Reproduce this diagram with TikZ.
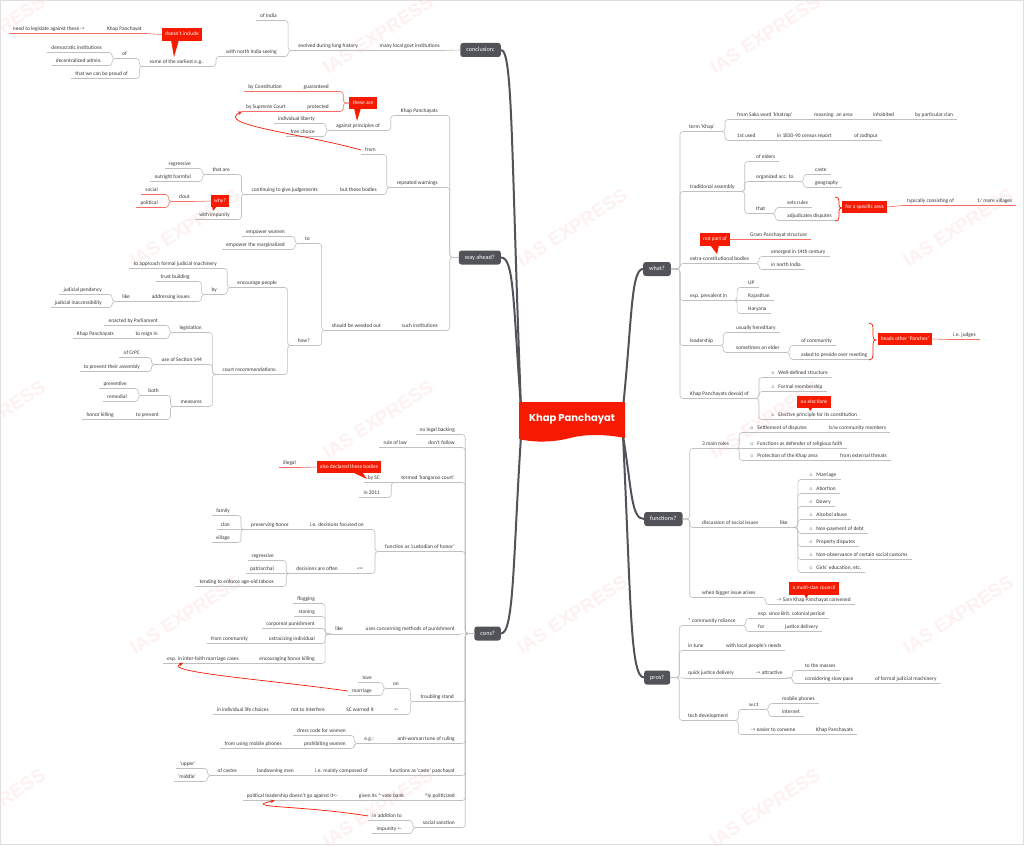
\documentclass[tikz,border=0pt]{standalone}
\usepackage{fontspec}
\setmainfont{Carlito}
\newfontfamily\popp{Poppins}
\newfontfamily\wmfont{Liberation Sans}
\usetikzlibrary{calc,arrows.meta}
\definecolor{cred}{RGB}{245,26,0}
\definecolor{boxg}{RGB}{82,83,89}
\definecolor{txt}{RGB}{55,55,55}
\definecolor{lin}{RGB}{192,192,192}
\definecolor{rlin}{RGB}{246,110,100}
\definecolor{wmc}{RGB}{254,241,241}
\tikzset{
 tpb/.style={font=\fontsize{5.4}{6}\selectfont, text=txt, inner xsep=4pt, inner ysep=1.8pt, text height=3.8pt, text depth=1.2pt},
 ul/.style={draw=lin, line width=0.6pt},
 rul/.style={draw=rlin, line width=0.6pt},
 tp/.style={tpb, append after command={(\tikzlastnode.south west) edge[ul] (\tikzlastnode.south east)}},
 rtp/.style={tpb, append after command={(\tikzlastnode.south west) edge[rul] (\tikzlastnode.south east)}},
 L/.style={tp, anchor=east}, R/.style={tp, anchor=west},
 rL/.style={rtp, anchor=east}, rR/.style={rtp, anchor=west},
 cn/.style={draw=lin, line width=0.6pt, rounded corners=3pt},
 rcn/.style={draw=rlin, line width=0.6pt, rounded corners=3pt},
 mbox/.style={fill=boxg, text=white, rounded corners=2.5pt, font=\fontsize{6.2}{7}\selectfont, inner xsep=6pt, inner ysep=0pt, minimum height=14pt, text height=4.3pt, text depth=1.3pt},
 co/.style={fill=cred, text=white, font=\fontsize{5.4}{6}\selectfont, inner xsep=3.3pt, inner ysep=0pt, minimum height=12.5pt, text height=3.8pt, text depth=1.2pt},
 trunk/.style={draw=boxg, line width=2pt},
 rarr/.style={draw=cred, line width=0.7pt, -{Stealth[length=4pt,width=3.5pt]}},
 brc/.style={draw=cred, line width=0.7pt},
 wm/.style={text=wmc, font=\wmfont\bfseries\fontsize{19}{20}\selectfont, rotate=33, inner sep=0pt},
 frm/.style={draw=gray!25, line width=0.8pt},
}
\newcommand\cnL[2]{\draw[cn] (#1.south west) -- ++(-6,0) |- (#2.south east);}
\newcommand\cnR[2]{\draw[cn] (#1.south east) -- ++(6,0) |- (#2.south west);}
\newcommand\stL[2]{\draw[cn] (#1.south west) -- (#2.south east);}
\newcommand\stR[2]{\draw[cn] (#1.south east) -- (#2.south west);}
\newcommand\bxL[2]{\draw[cn] (#1.west) -- ++(-9,0) |- (#2.south east);}
\newcommand\bxR[2]{\draw[cn] (#1.east) -- ++(9,0) |- (#2.south west);}
\newcommand\bu{{\fontsize{5}{5}\selectfont$\circ$}\hspace{3.5pt}}
\begin{document}
\begin{tikzpicture}[x=1pt,y=-1pt]
\useasboundingbox (0,0) rectangle (1024,845);
\clip (0,0) rectangle (1024,845);
\fill[white] (0,0) rectangle (1024,845);
% watermarks
\foreach \x/\y [count=\i] in {-10/35,378/35,765/35,-10/420,378/420,765/420,-10/808,378/808,765/808,185/228,572/228,958/228,185/615,572/615,958/615}
  \node[wm] (wm\i) at (\x,\y) {IAS EXPRESS};
\draw[frm] (0.5,0.5) rectangle (1023.5,844.5);

% main topic boxes
\node[mbox, anchor=east] (conc) at (501,50) {conclusion:};
\node[mbox, anchor=east] (way) at (501,257.5) {way ahead?};
\node[mbox, anchor=east] (cons) at (501,633.5) {cons?};
\node[mbox, anchor=west] (what) at (643,269) {what?};
\node[mbox, anchor=west] (funcs) at (644,519) {functions?};
\node[mbox, anchor=west] (pros) at (644,677.5) {pros?};

% trunks
\coordinate (tl) at (521,408);
\coordinate (bl) at (521,436);
\coordinate (tr) at (623,408);
\coordinate (br) at (623,436);
\draw[trunk] (tl) .. controls (511,150) and (513,50) .. (conc.east);
\draw[trunk] (tl) .. controls (513,300) and (514,257.5) .. (way.east);
\draw[trunk] (bl) .. controls (513,560) and (514,633.5) .. (cons.east);
\draw[trunk] (tr) .. controls (632,320) and (631,269) .. (what.west);
\draw[trunk] (br) .. controls (632,490) and (631,519) .. (funcs.west);
\draw[trunk] (br) .. controls (631,600) and (630,677.5) .. (pros.west);

% central topic
\fill[cred] (519,402) -- (625,402) -- (625,438) .. controls (605,434) and (585,434) .. (570,438) .. controls (555,442) and (535,443) .. (519,439) -- cycle;
\node[font=\popp\bfseries\fontsize{10}{12}\selectfont, text=white] (ctr) at (572,419) {Khap Panchayat};

% ---------------- conclusion
\node[L] (c1) at (444,46) {many local govt institutions};
\node[L] (c2) at (362,46) {evolved during long history};
\node[L] (c3) at (281,16) {of India};
\node[L] (c4) at (281,52) {with north India seeing};
\node[L] (c5) at (208,62) {some of the earliest e.g..};
\node[L] (c6) at (131,54) {of};
\node[L] (c7) at (106,48) {democratic institutions};
\node[L] (c8) at (106,61) {decentralized admin.};
\node[L] (c9) at (132,74) {that we can be proud of};
\node[co] (co1) at (182,34.5) {doesn't include};
\fill[cred] (171,40) -- (179,40) -- (174,57) -- cycle;
\node[rL] (c10) at (146,29) {Khap Panchayat};
\node[rL] (c11) at (89,29) {need to legislate against these ->};
\draw[cn] (conc.west) -- (c1.south east);
\stL{c1}{c2}
\cnL{c2}{c3} \cnL{c2}{c4}
\cnL{c4}{c5}
\cnL{c5}{c6} \cnL{c5}{c9}
\cnL{c6}{c7} \cnL{c6}{c8}
\draw[rcn] (co1.west) -- (c10.south east);
\draw[rcn] (c10.south west) -- (c11.south east);

% ---------------- way ahead
\node[L] (w1) at (442,111) {Khap Panchayats};
\node[L] (w2) at (384,126) {against principles of};
\node[L] (w3) at (319,119) {individual liberty};
\node[L] (w4) at (319,132) {free choice};
\node[co] (co2) at (363,103) {these are};
\fill[cred] (354,108) -- (361,108) -- (357,121) -- cycle;
\node[rL] (w5) at (333,87) {guaranteed};
\node[rL] (w6) at (333,107) {protected};
\node[rL] (w7) at (286,87) {by Constitution};
\node[rL] (w8) at (290,107) {by Supreme Court};
\node[L] (w9) at (380,150) {from};
\node[L] (w10) at (442,183) {repeated warnings};
\node[L] (w11) at (381,190) {but these bodies};
\node[L] (w12) at (322,190) {continuing to give judgements};
\node[L] (w13) at (234,170) {that are};
\node[L] (w14) at (195,164) {regressive};
\node[L] (w15) at (195,177) {outright harmful};
\node[L] (w16) at (234,215) {with impunity};
\node[co] (co3) at (220,201) {why?};
\fill[cred] (212,206) -- (217,206) -- (213,211) -- cycle;
\node[rL] (w17) at (194,197) {clout};
\node[rL] (w18) at (162,190) {social};
\node[rL] (w19) at (162,203) {political};
\node[L] (w20) at (442,326) {such institutions};
\node[L] (w21) at (385,326) {should be weeded out};
\node[L] (w22) at (314,239) {to};
\node[L] (w23) at (289,232) {empower women};
\node[L] (w24) at (289,245) {empower the marginalized};
\node[L] (w25) at (314,341) {how?};
\node[L] (w26) at (281,283) {encourage people};
\node[L] (w27) at (221,264) {to approach formal judicial machinery};
\node[L] (w28) at (221,290) {by};
\node[L] (w29) at (194,277) {trust building};
\node[L] (w30) at (194,297) {addressing issues};
\node[L] (w31) at (134,297) {like};
\node[L] (w32) at (106,290) {judicial pendency};
\node[L] (w33) at (106,303) {judicial inaccessibility};
\node[L] (w34) at (281,370) {court recommendations:};
\node[L] (w35) at (206,328) {legislation};
\node[L] (w36) at (162,321) {enacted by Parliament};
\node[L] (w37) at (162,334) {to reign in};
\node[L] (w38) at (118,334) {Khap Panchayats};
\node[L] (w39) at (206,360) {use of Section 144};
\node[L] (w40) at (144,353) {of CrPC};
\node[L] (w41) at (144,367) {to prevent their assembly};
\node[L] (w42) at (206,402) {measures};
\node[L] (w43) at (163,391) {both};
\node[L] (w44) at (131,384) {preventive};
\node[L] (w45) at (131,397) {remedial};
\node[L] (w46) at (163,415) {to prevent};
\node[L] (w47) at (118,415) {honor killing};
\bxL{way}{w1} \bxL{way}{w10} \bxL{way}{w20}
\cnL{w1}{w2} \cnL{w2}{w3} \cnL{w2}{w4}
\draw[rcn] (co2.west) -- ++(-6,0) |- (w5.south east);
\draw[rcn] (co2.west) -- ++(-6,0) |- (w6.south east);
\draw[rcn] (w5.south west) -- (w7.south east);
\draw[rcn] (w6.south west) -- (w8.south east);
\cnL{w10}{w9} \cnL{w10}{w11}
\stL{w11}{w12}
\cnL{w12}{w13} \cnL{w12}{w16}
\cnL{w13}{w14} \cnL{w13}{w15}
\draw[rcn] (co3.west) -- (w17.south east);
\draw[rcn] (w17.south west) -- ++(-6,0) |- (w18.south east);
\draw[rcn] (w17.south west) -- ++(-6,0) |- (w19.south east);
\stL{w20}{w21}
\cnL{w21}{w22} \cnL{w21}{w25}
\cnL{w22}{w23} \cnL{w22}{w24}
\cnL{w25}{w26} \cnL{w25}{w34}
\cnL{w26}{w27} \cnL{w26}{w28}
\cnL{w28}{w29} \cnL{w28}{w30}
\stL{w30}{w31}
\cnL{w31}{w32} \cnL{w31}{w33}
\cnL{w34}{w35} \cnL{w34}{w39} \cnL{w34}{w42}
\cnL{w35}{w36} \cnL{w35}{w37} \stL{w37}{w38}
\cnL{w39}{w40} \cnL{w39}{w41}
\cnL{w42}{w43} \cnL{w42}{w46}
\cnL{w43}{w44} \cnL{w43}{w45} \stL{w46}{w47}
\draw[rarr] (w9.west) .. controls (300,133) and (215,125) .. (w8.south west);

% ---------------- cons
\node[L] (k1) at (459,430) {no legal backing};
\node[L] (k2) at (459,443) {don't follow};
\node[L] (k3) at (411,443) {rule of law};
\node[L] (k4) at (459,478) {termed `kangaroo court'};
\node[L] (k5) at (384,478) {by SC};
\node[L] (k6) at (384,493) {in 2011};
\node[co] (co4) at (349,467) {also declared these bodies};
\fill[cred] (352,472) -- (362,472) -- (367,479) -- cycle;
\node[rL] (k7) at (300,463) {illegal};
\node[L] (k8) at (459,547) {function as `custodian of honor'};
\node[L] (k9) at (368,525) {i.e. decisions focused on};
\node[L] (k10) at (293,525) {preserving honor};
\node[L] (k11) at (234,511) {family};
\node[L] (k12) at (234,525) {clan};
\node[L] (k13) at (234,538) {village};
\node[L] (k14) at (367,569) {<=};
\node[L] (k15) at (342,569) {decisions are often};
\node[L] (k16) at (278,556) {regressive};
\node[L] (k17) at (278,569) {patriarchal};
\node[L] (k18) at (278,582) {tending to enforce age-old taboos};
\node[L] (k19) at (459,629.5) {uses concerning methods of punishment};
\node[L] (k20) at (347,629.5) {like};
\node[L] (k21) at (319,599) {flogging};
\node[L] (k22) at (319,612) {stoning};
\node[L] (k23) at (319,624) {corporeal punishment};
\node[L] (k24) at (319,639) {ostracizing individual};
\node[L] (k25) at (252,639) {from community};
\node[L] (k26) at (319,659) {encouraging honor killing};
\node[L] (k27) at (243,659) {esp. in inter-faith marriage cases};
\node[L] (k28) at (458,697) {troubling stand};
\node[L] (k29) at (403,684) {on};
\node[L] (k30) at (376,678) {love};
\node[L] (k31) at (376,691) {marriage};
\node[L] (k32) at (403,710) {<-};
\node[L] (k33) at (378,710) {SC warned it};
\node[L] (k34) at (329,710) {not to interfere};
\node[L] (k35) at (273,710) {in individual life choices};
\node[L] (k36) at (459,739) {anti-woman tone of ruling};
\node[L] (k37) at (378,739) {e.g.:};
\node[L] (k38) at (350,731) {dress code for women};
\node[L] (k39) at (350,744) {prohibiting women};
\node[L] (k40) at (286,744) {from using mobile phones};
\node[L] (k41) at (459,771) {functions as `caste' panchayat};
\node[L] (k42) at (372,771) {i.e. mainly composed of};
\node[L] (k43) at (298,771) {landowning men};
\node[L] (k44) at (241,771) {of castes};
\node[L] (k45) at (200,764) {`upper'};
\node[L] (k46) at (200,777) {`middle'};
\node[L] (k47) at (459,796) {\textasciicircum{}ly politicized};
\node[L] (k48) at (408,796) {given its \textasciicircum{} vote bank};
\node[L] (k49) at (342,796) {political leadership doesn't go against it<-};
\node[L] (k50) at (459,823) {social sanction};
\node[L] (k51) at (406,816) {in addition to};
\node[L] (k52) at (406,829) {impunity <-};
\bxL{cons}{k1} \bxL{cons}{k2} \bxL{cons}{k4} \bxL{cons}{k8}
\draw[cn] (cons.west) -- (k19.south east);
\bxL{cons}{k28} \bxL{cons}{k36} \bxL{cons}{k41} \bxL{cons}{k47} \bxL{cons}{k50}
\stL{k2}{k3}
\stL{k4}{k5} \cnL{k4}{k6}
\draw[rcn] (co4.west) -- (k7.south east);
\cnL{k8}{k9} \cnL{k8}{k14}
\stL{k9}{k10}
\cnL{k10}{k11} \stL{k10}{k12} \cnL{k10}{k13}
\stL{k14}{k15}
\cnL{k15}{k16} \stL{k15}{k17} \cnL{k15}{k18}
\stL{k19}{k20}
\cnL{k20}{k21} \cnL{k20}{k22} \cnL{k20}{k23} \cnL{k20}{k24} \cnL{k20}{k26}
\stL{k24}{k25} \stL{k26}{k27}
\cnL{k28}{k29} \cnL{k28}{k32}
\cnL{k29}{k30} \cnL{k29}{k31}
\stL{k32}{k33} \stL{k33}{k34} \stL{k34}{k35}
\stL{k36}{k37}
\cnL{k37}{k38} \cnL{k37}{k39} \stL{k39}{k40}
\stL{k41}{k42} \stL{k42}{k43} \stL{k43}{k44}
\cnL{k44}{k45} \cnL{k44}{k46}
\stL{k47}{k48} \stL{k48}{k49}
\cnL{k50}{k51} \cnL{k50}{k52}
\draw[rarr] (k31.west) .. controls (270,680) and (160,672) .. ($(k27.south west)+(20,-0.5)$);
\draw[rarr] (k51.west) .. controls (300,805) and (240,808) .. ($(k49.south west)+(32,0)$);

% ---------------- what?
\node[R] (r1) at (685,127) {term `Khap'};
\node[R] (r2) at (733,115) {from Saka word `khatrap'};
\node[R] (r3) at (810,115) {meaning: an area};
\node[R] (r4) at (869,115) {inhabited};
\node[R] (r5) at (911,115) {by particular clan};
\node[R] (r6) at (733,136) {1st used};
\node[R] (r7) at (773,136) {in 1830-90 census report};
\node[R] (r8) at (850,136) {of Jodhpur};
\node[R] (r9) at (686,187) {traditional assembly};
\node[R] (r10) at (752,157) {of elders};
\node[R] (r11) at (752,177) {organized acc. to};
\node[R] (r12) at (811,170) {caste};
\node[R] (r13) at (811,183) {geography};
\node[R] (r14) at (752,209) {that};
\node[R] (r15) at (783,203) {sets rules};
\node[R] (r16) at (783,216) {adjudicates disputes};
\draw[brc] (835,197) .. controls (838,197) and (839,198) .. (839,201) -- (839,205) .. controls (839,207) and (840,208) .. (842,208) .. controls (840,208) and (839,209) .. (839,211) -- (839,217) .. controls (839,220) and (838,221) .. (835,221);
\node[co] (r17) at (864.5,207) {for a specific area};
\node[rR] (r18) at (903,201) {typically consisting of};
\node[rR] (r19) at (973,201) {1/ more villages};
\node[co] (co5) at (715,239.5) {not part of};
\fill[cred] (710,245) -- (719,245) -- (717,254) -- cycle;
\node[rR] (r21) at (746,235) {Gram Panchayat structure};
\node[R] (r22) at (686,259) {extra-constitutional bodies};
\node[R] (r23) at (767,252) {emerged in 14th century};
\node[R] (r24) at (767,265) {in north India};
\node[R] (r25) at (686,296) {esp. prevalent in};
\node[R] (r26) at (744,283) {UP};
\node[R] (r27) at (744,296) {Rajasthan};
\node[R] (r28) at (744,309) {Haryana};
\node[R] (r29) at (686,341) {leadership};
\node[R] (r30) at (732,328) {usually hereditary};
\node[R] (r31) at (732,348) {sometimes an elder};
\node[R] (r32) at (797,341) {of community};
\node[R] (r33) at (797,355) {asked to preside over meeting};
\draw[brc] (869,323) .. controls (872,323) and (873,325) .. (873,329) -- (873,336) .. controls (873,339) and (874,340) .. (876,340) .. controls (874,340) and (873,341) .. (873,344) -- (873,355) .. controls (873,358) and (872,360) .. (869,360);
\node[co] (r34) at (905,339) {heads other `Panches'};
\node[rR] (r35) at (949,335) {i.e. judges};
\node[R] (r36) at (686,394) {Khap Panchayats devoid of};
\node[R] (r37) at (767,373) {\bu Well-defined structure};
\node[R] (r38) at (767,387) {\bu Formal membership};
\node[R] (r39) at (767,415) {\bu Elective principle for its constitution};
\node[co] (co6) at (814,402) {no elections};
\fill[cred] (808,407) -- (813,407) -- (810,411) -- cycle;
\bxR{what}{r1} \bxR{what}{r9} \bxR{what}{r22} \bxR{what}{r25} \bxR{what}{r29} \bxR{what}{r36}
\cnR{r1}{r2} \cnR{r1}{r6}
\stR{r2}{r3} \stR{r3}{r4} \stR{r4}{r5}
\stR{r6}{r7} \stR{r7}{r8}
\cnR{r9}{r10} \cnR{r9}{r11} \cnR{r9}{r14}
\cnR{r11}{r12} \cnR{r11}{r13}
\cnR{r14}{r15} \cnR{r14}{r16}
\draw[rcn] (r17.east) -- (r18.south west);
\draw[rcn] (r18.south east) -- (r19.south west);
\draw[rcn] (co5.east) -- (r21.south west);
\cnR{r22}{r23} \cnR{r22}{r24}
\cnR{r25}{r26} \stR{r25}{r27} \cnR{r25}{r28}
\cnR{r29}{r30} \cnR{r29}{r31}
\cnR{r31}{r32} \cnR{r31}{r33}
\draw[rcn] (r34.east) -- (r35.south west);
\cnR{r36}{r37} \cnR{r36}{r38} \cnR{r36}{r39}

% ---------------- functions?
\node[R] (f1) at (698,444) {3 main roles};
\node[R] (f2) at (746,428) {\bu Settlement of disputes};
\node[R] (f3) at (825,428) {b/w community members};
\node[R] (f4) at (746,444) {\bu Functions as defender of religious faith};
\node[R] (f5) at (746,456) {\bu Protection of the Khap area};
\node[R] (f6) at (836,456) {from external threats};
\node[R] (f7) at (698,523) {discussion of social issues};
\node[R] (f8) at (776,523) {like};
\node[R] (f9) at (805,475) {\bu Marriage};
\node[R] (f10) at (805,489) {\bu Abortion};
\node[R] (f11) at (805,502) {\bu Dowry};
\node[R] (f12) at (805,515) {\bu Alcohol abuse};
\node[R] (f13) at (805,529) {\bu Non-payment of debt};
\node[R] (f14) at (805,542) {\bu Property disputes};
\node[R] (f15) at (805,555) {\bu Non-observance of certain social customs};
\node[R] (f16) at (805,568) {\bu Girls' education, etc.};
\node[R] (f17) at (698,593) {when bigger issue arises};
\node[R] (f18) at (773,600) {-> Sarv Khap Panchayat convened};
\node[co] (co7) at (814,588.5) {a multi-clan council};
\fill[cred] (804,594) -- (809,594) -- (806,598) -- cycle;
\draw[cn] (funcs.east) -- ++(7,0) |- (f1.south west);
\draw[cn] (funcs.east) -- ++(7,0) |- (f7.south west);
\draw[cn] (funcs.east) -- ++(7,0) |- (f17.south west);
\cnR{f1}{f2} \stR{f1}{f4} \cnR{f1}{f5}
\stR{f2}{f3} \stR{f5}{f6}
\stR{f7}{f8}
\cnR{f8}{f9} \cnR{f8}{f10} \cnR{f8}{f11} \cnR{f8}{f12} \cnR{f8}{f13} \cnR{f8}{f14} \cnR{f8}{f15} \cnR{f8}{f16}
\cnR{f17}{f18}

% ---------------- pros?
\node[R] (p1) at (684,621) {* community reliance};
\node[R] (p2) at (754,614) {esp. since Brit. colonial period};
\node[R] (p3) at (754,627) {for};
\node[R] (p4) at (781,627) {justice delivery};
\node[R] (p5) at (684,646) {in tune};
\node[R] (p6) at (722,646) {with local people's needs};
\node[R] (p7) at (684,673.5) {quick justice delivery};
\node[R] (p8) at (752,673.5) {-> attractive};
\node[R] (p9) at (801,666) {to the masses};
\node[R] (p10) at (801,679) {considering slow pace};
\node[R] (p11) at (871,679) {of formal judicial machinery};
\node[R] (p12) at (684,716) {tech development};
\node[R] (p13) at (745,705) {w.r.t};
\node[R] (p14) at (778,699) {mobile phones};
\node[R] (p15) at (778,712) {internet};
\node[R] (p16) at (747,730) {-> easier to convene};
\node[R] (p17) at (812,730) {Khap Panchayats};
\bxR{pros}{p1} \bxR{pros}{p5} \bxR{pros}{p12}
\draw[cn] (pros.east) -- (p7.south west);
\cnR{p1}{p2} \cnR{p1}{p3} \stR{p3}{p4}
\stR{p5}{p6}
\stR{p7}{p8} \cnR{p8}{p9} \cnR{p8}{p10} \stR{p10}{p11}
\cnR{p12}{p13} \cnR{p12}{p16}
\cnR{p13}{p14} \cnR{p13}{p15} \stR{p16}{p17}
\end{tikzpicture}
\end{document}
